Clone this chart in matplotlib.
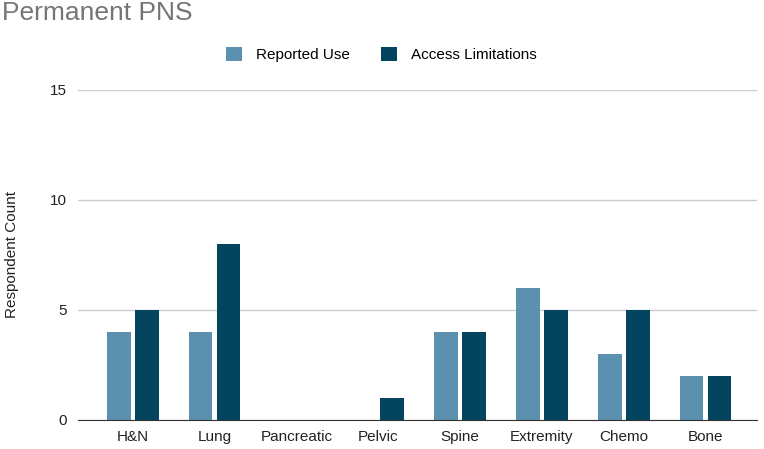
import matplotlib.pyplot as plt
import numpy as np

categories = ["H&N", "Lung", "Pancreatic", "Pelvic", "Spine", "Extremity", "Chemo", "Bone"]
reported_use = [4, 4, 0, 0, 4, 6, 3, 2]
access_limitations = [5, 8, 0, 1, 4, 5, 5, 2]

plt.rcParams['font.family'] = ['Liberation Sans', 'DejaVu Sans']

fig = plt.figure(figsize=(7.64, 4.49), dpi=100)
ax = fig.add_axes([0.102, 0.0646, 0.889, 0.735])

x = np.arange(len(categories))
w = 0.29
off = 0.171
ax.bar(x - off, reported_use, w, color='#5b90ae', label='Reported Use', zorder=3)
ax.bar(x + off, access_limitations, w, color='#03445f', label='Access Limitations', zorder=3)

ax.set_xlim(-0.67, 7.63)
ax.set_ylim(0, 15)
ax.set_yticks([0, 5, 10, 15])
ax.set_xticks(x)
ax.set_xticklabels(categories)
ax.tick_params(axis='both', length=0, labelsize=11, colors='#222222')
ax.tick_params(axis='y', pad=8)
ax.tick_params(axis='x', pad=7)
ax.grid(axis='y', color='#cccccc', linewidth=1, zorder=0)
for s in ['top', 'right', 'left']:
    ax.spines[s].set_visible(False)
ax.spines['bottom'].set_color('#333333')
ax.spines['bottom'].set_zorder(4)
ax.set_ylabel('Respondent Count', fontsize=11, color='#222222', labelpad=22)

fig.text(0.003, 0.97, 'Permanent PNS', fontsize=19, color='#757575', ha='left', va='center')
fig.legend(loc='center', bbox_to_anchor=(0.499, 0.879), ncol=2, frameon=False,
           fontsize=11, handlelength=1.1, handleheight=1.1, columnspacing=2.0,
           handletextpad=0.9)

fig.savefig('out.png', dpi=100)
